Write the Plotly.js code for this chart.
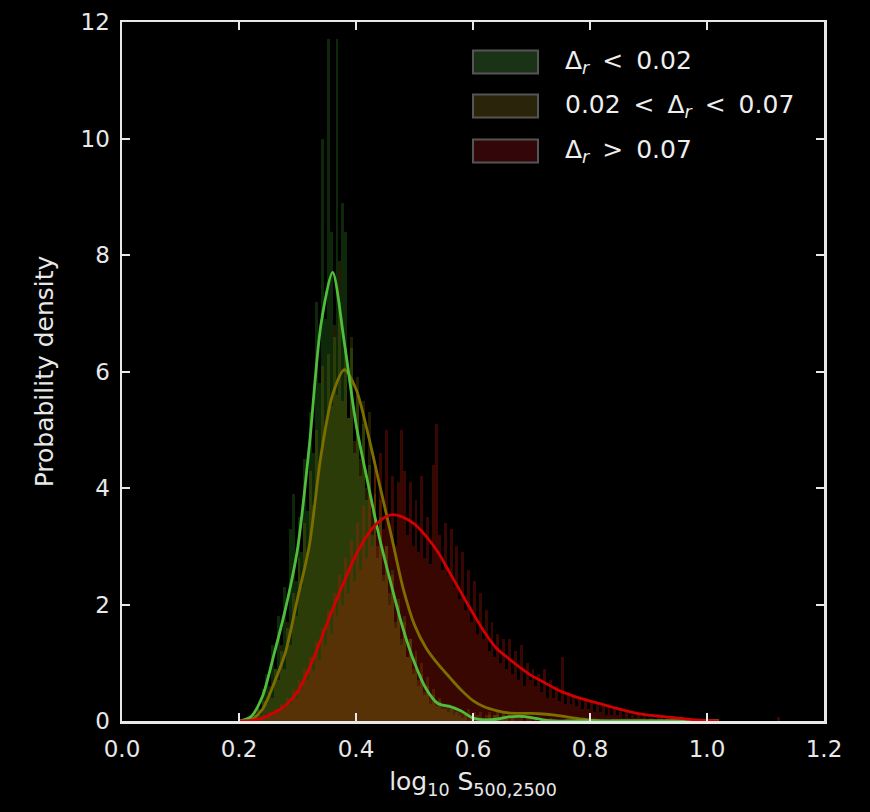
<!DOCTYPE html>
<html>
<head>
<meta charset="utf-8">
<script src="https://cdn.plot.ly/plotly-3.0.1.min.js"></script>
<style>html,body{margin:0;padding:0;background:#000;}#chart{width:870px;height:812px;}</style>
</head>
<body>
<div id="chart"></div>
<script>
// Histogram bins: left edge of first bin and bin width (x units)
const binStart = 0.2;
const binWidth = 0.005;

// Density per bin, series "Δr < 0.02"
const histLow = [0,0,0,0.05,0,0.15,0.3,0.2,0.55,0.8,0.5,1.3,0.9,1.8,1.2,2.3,1.6,3.3,3.9,2.4,
3.5,2.9,4.5,3.6,5.3,4.6,7.2,5.8,10.0,6.9,11.7,8.4,6.6,11.7,7.2,8.9,8.4,5.2,6.4,4.6,
5.6,4.2,5.1,3.8,4.4,3.2,3.9,2.8,3.5,2.5,3.0,2.2,2.6,1.7,2.1,1.4,1.8,1.1,1.4,0.8,
1.1,0.6,0.8,0.45,0.6,0.3,0.45,0.25,0.35,0.3,0.2,0.3,0.2,0.25,0.15,0.2,0.05,0.1,0,0.05,
0,0,0.05,0,0.05,0.1,0.05,0.1,0.15,0.05,0.1,0.05,0,0.05,0,0];

// Density per bin, series "0.02 < Δr < 0.07"
const histMid = [0,0,0,0.05,0,0.1,0.2,0.1,0.35,0.3,0.6,0.4,0.9,0.7,1.3,0.9,1.7,1.3,2.2,1.8,
2.8,2.3,3.4,2.9,4.3,3.7,5.0,4.4,6.1,5.0,6.3,5.4,6.8,5.6,7.9,5.5,6.4,5.2,6.6,4.8,
5.9,4.5,5.5,4.0,5.3,3.6,4.4,3.0,3.8,2.4,3.0,2.0,2.5,1.6,2.0,1.3,1.7,1.1,1.4,0.9,
1.2,0.7,1.0,0.5,0.75,0.4,0.55,0.3,0.4,0.2,0.3,0.15,0.25,0.1,0.2,0.1,0.15,0.1,0.2,0.05,
0.15,0.1,0.15,0.05,0.1,0.15,0.05,0.1,0.1,0.05,0.15,0.05,0.1,0.05,0.1,0.05,0.1,0,0.05,0.05,
0,0.05,0,0.05,0,0,0.05,0,0,0];

// Density per bin, series "Δr > 0.07"
const histHigh = [0,0,0,0,0,0.05,0,0.05,0.1,0.05,0.15,0.1,0.2,0.15,0.3,0.2,0.4,0.3,0.55,0.4,
0.7,0.55,0.9,0.7,1.1,0.85,1.35,1.05,1.6,1.3,1.9,1.5,2.2,1.8,2.5,2.0,2.8,2.2,3.1,2.4,
3.4,2.6,3.7,2.8,4.1,3.0,4.4,3.2,4.6,3.3,5.0,3.4,4.2,3.0,4.1,5.0,4.3,3.2,4.1,3.0,
3.8,2.9,4.2,2.8,3.5,2.7,4.4,5.1,3.2,2.6,3.4,2.5,3.3,2.3,3.0,2.1,2.9,1.9,2.6,1.7,
2.4,1.5,2.2,1.4,1.9,1.2,1.7,1.1,1.5,1.0,1.4,0.9,1.4,0.8,1.2,0.7,1.3,0.6,1.0,0.7,
0.9,0.6,0.8,0.5,0.9,0.4,0.7,0.4,0.6,0.35,1.1,0.3,0.5,0.3,0.45,0.25,0.4,0.2,0.4,0.2,
0.35,0.15,0.3,0.15,0.25,0.1,0.3,0.1,0.2,0.1,0.15,0.05,0.15,0.05,0.1,0.05,0.15,0.05,0.1,0,
0.05,0.05,0,0.05,0.05,0,0.05,0,0,0.05,0,0,0,0,0,0,0,0,0,0,
0,0,0,0,0,0,0,0,0,0,0,0,0,0,0,0,0,0,0,0,
0,0,0,0,0.07];

// Kernel density curves
const kdeX = [0.20,0.22,0.24,0.26,0.28,0.30,0.32,0.34,0.36,0.38,0.40,0.42,0.44,0.46,0.48,0.50,0.52,0.54,0.56,
0.58,0.60,0.62,0.64,0.66,0.68,0.70,0.72,0.74,0.76,0.78,0.80,0.82,0.84,0.86,0.88,0.90,0.92,0.94,0.96,
0.98,1.00,1.02];
const kdeLow = [0,0.07,0.42,1.15,1.95,2.95,4.7,6.8,7.7,6.5,5.1,4.1,3.15,2.35,1.6,1.0,0.55,0.3,0.25,
0.17,0.05,0.02,0.03,0.07,0.08,0.06,0.02,0,0,0,0,0,0,0,0,0,0,0,0,
0,0,0];
const kdeMid = [0,0.02,0.2,0.65,1.2,2.1,3.0,4.55,5.6,6.03,5.7,4.95,4.07,3.2,2.3,1.65,1.25,0.98,0.75,
0.53,0.35,0.24,0.18,0.14,0.13,0.13,0.12,0.1,0.07,0.04,0.02,0,0,0,0,0,0,0,0,
0,0,0];
const kdeHigh = [0,0.01,0.05,0.14,0.27,0.5,0.9,1.4,1.92,2.4,2.85,3.2,3.43,3.54,3.5,3.38,3.17,2.9,2.55,
2.2,1.85,1.52,1.25,1.08,0.92,0.78,0.67,0.56,0.47,0.4,0.34,0.29,0.23,0.18,0.13,0.1,0.08,0.06,0.04,
0.02,0.01,0];

// Labels
const seriesNames = ["Δ<sub><i>r</i></sub> &lt; 0.02", "0.02 &lt; Δ<sub><i>r</i></sub> &lt; 0.07", "Δ<sub><i>r</i></sub> &gt; 0.07"];
const histColors = ["rgba(60,175,45,0.23)", "rgba(150,130,10,0.22)", "rgba(205,25,5,0.28)"];
const swatchColors = ["#1a3316", "#2a250a", "#33060a"];
const lineColors = ["rgb(80,190,60)", "rgb(125,110,0)", "rgb(210,0,0)"];

function centers(arr){ return arr.map((_, i) => binStart + binWidth * (i + 0.5)); }

const hists = [histLow, histMid, histHigh];
const kdes = [kdeLow, kdeMid, kdeHigh];
const traces = [];
hists.forEach((h, i) => {
  traces.push({type:'bar', x:centers(h), y:h, width:binWidth,
    marker:{color:histColors[i], line:{width:0}}, showlegend:false, hoverinfo:'skip'});
});
[1,0,2].forEach(i => {
  traces.push({type:'scatter', mode:'lines', x:kdeX, y:kdes[i],
    line:{color:lineColors[i], width:2.8, shape:'spline', smoothing:0.8}, showlegend:false, hoverinfo:'skip'});
});

const fontFam = "DejaVu Sans, sans-serif";
const shapes = [];
const annotations = [];
const legY = [0.9428, 0.8798, 0.8155]; // paper y of legend rows
const legX0 = (473-122)/702, legX1 = (538-122)/702;
legY.forEach((y, i) => {
  shapes.push({type:'rect', xref:'paper', yref:'paper', x0:legX0, x1:legX1, y0:y-0.0165, y1:y+0.0165,
    fillcolor:swatchColors[i], line:{color:'#555', width:2}});
  annotations.push({xref:'paper', yref:'paper', x:(563-122)/702, y:y, xanchor:'left', yanchor:'middle',
    text:seriesNames[i].replace(/ (&lt;|&gt;) /g, ' \u2009$1\u2009 '), showarrow:false,
    font:{family:fontFam, size:25, color:'#eeeeee'}});
});

const axisCommon = {showline:true, linecolor:'#e8e8e8', linewidth:2.5, mirror:'ticks',
  ticks:'inside', ticklen:8, tickwidth:2, tickcolor:'#e8e8e8', showgrid:false, zeroline:false,
  tickfont:{family:fontFam, size:23, color:'#e8e8e8'}};

const layout = {
  width:870, height:812,
  paper_bgcolor:'#000', plot_bgcolor:'#000',
  margin:{l:122, r:46, t:22, b:91},
  barmode:'overlay', bargap:0,
  xaxis:Object.assign({}, axisCommon, {range:[0,1.2], dtick:0.2, tick0:0, tickformat:'.1f', ticklabelstandoff:6,
    title:{text:'log<sub>10</sub> S<sub>500,2500</sub>', font:{family:fontFam, size:25, color:'#e8e8e8'}, standoff:12}}),
  yaxis:Object.assign({}, axisCommon, {range:[0,12], dtick:2, tick0:0, ticklabelstandoff:5,
    title:{text:'Probability density', font:{family:fontFam, size:25, color:'#e8e8e8'}, standoff:20}}),
  shapes:shapes, annotations:annotations, showlegend:false
};

Plotly.newPlot('chart', traces, layout, {staticPlot:true, displayModeBar:false});
</script>
</body>
</html>
